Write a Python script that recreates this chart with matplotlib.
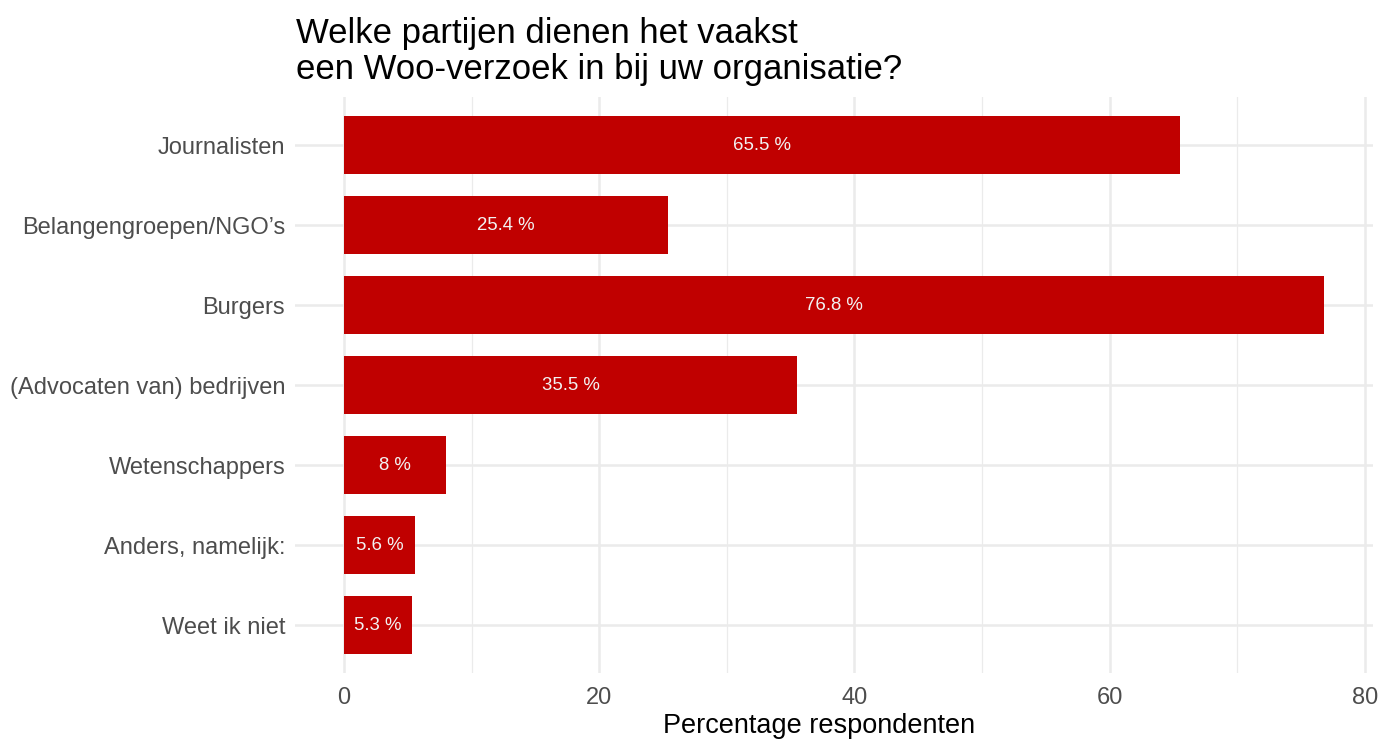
import matplotlib.pyplot as plt
from matplotlib.ticker import MultipleLocator

plt.rcParams["font.family"] = ["Liberation Sans", "DejaVu Sans"]

categories = ["Journalisten", "Belangengroepen/NGO\u2019s", "Burgers",
              "(Advocaten van) bedrijven", "Wetenschappers",
              "Anders, namelijk:", "Weet ik niet"]
percentages = [65.5, 25.4, 76.8, 35.5, 8.0, 5.6, 5.3]
bar_labels = ["65.5 %", "25.4 %", "76.8 %", "35.5 %", "8 %", "5.6 %", "5.3 %"]

fig = plt.figure(figsize=(13.92, 7.4), dpi=100)
ax = fig.add_axes([0.2119, 0.0905, 0.9864 - 0.2119, 0.8689 - 0.0905])

ypos = list(range(len(categories)))[::-1]
bars = ax.barh(ypos, percentages, height=0.72, color="#C00000", zorder=2)
for b, lab in zip(bars, bar_labels):
    ax.text(b.get_width() / 2, b.get_y() + b.get_height() / 2, lab,
            ha="center", va="center", color="#F2F2F2", fontsize=13.4, zorder=3)

xmax = max(percentages)
ax.set_xlim(-0.05 * xmax, 1.05 * xmax)
ax.set_ylim(-0.6, len(categories) - 0.4)
ax.set_yticks(ypos)
ax.set_yticklabels(categories)
ax.xaxis.set_major_locator(MultipleLocator(20))
ax.xaxis.set_minor_locator(MultipleLocator(10))

ax.grid(True, which="major", color="#EBEBEB", lw=1.8, zorder=0)
ax.grid(True, which="minor", axis="x", color="#EBEBEB", lw=0.9, zorder=0)
for sp in ax.spines.values():
    sp.set_visible(False)
ax.tick_params(axis="both", which="both", length=0, colors="#4D4D4D", labelsize=17)
ax.tick_params(axis="y", pad=7)
ax.tick_params(axis="x", pad=10)

ax.set_xlabel("Percentage respondenten", fontsize=19.5, color="black")
ax.xaxis.set_label_coords(0.486, -0.07)
fig.text(0.2126, 1 - 86 / 740,
         "Welke partijen dienen het vaakst\neen Woo-verzoek in bij uw organisatie?",
         fontsize=25, ha="left", va="bottom", linespacing=1.12)

fig.savefig("out.png", dpi=100)
